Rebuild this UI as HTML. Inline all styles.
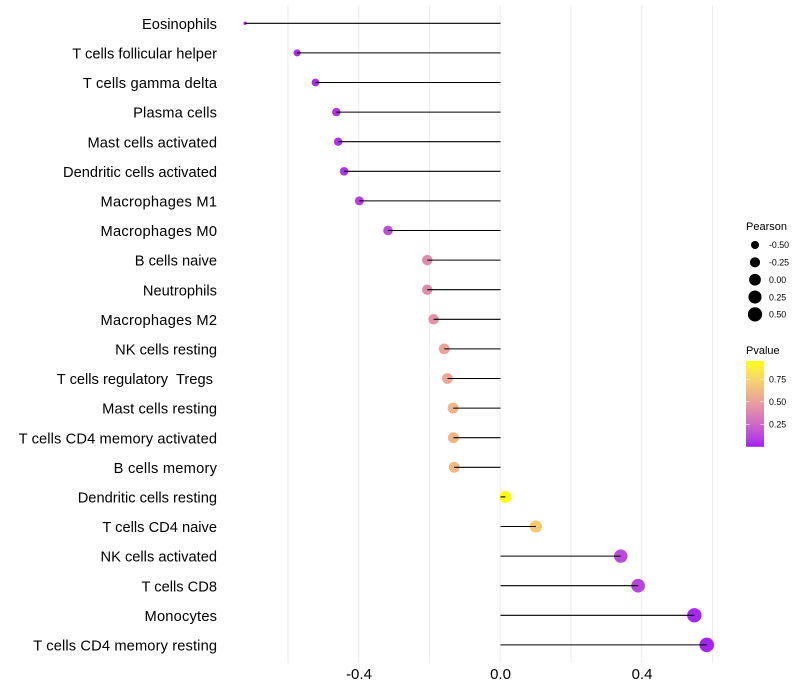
<!DOCTYPE html>
<html>
<head>
<meta charset="utf-8">
<title>Lollipop chart</title>
<style>
html,body{margin:0;padding:0;background:#fff;}
svg{display:block;font-family:"Liberation Sans",sans-serif;}
text{white-space:pre;}
</style>
</head>
<body>
<svg id="chart" width="800" height="700" viewBox="0 0 800 700" xmlns="http://www.w3.org/2000/svg" xml:space="preserve"></svg>
<script>
const categories = ["Eosinophils","T cells follicular helper","T cells gamma delta","Plasma cells","Mast cells activated","Dendritic cells activated","Macrophages M1","Macrophages M0","B cells naive","Neutrophils","Macrophages M2","NK cells resting","T cells regulatory  Tregs ","Mast cells resting","T cells CD4 memory activated","B cells memory","Dendritic cells resting","T cells CD4 naive","NK cells activated","T cells CD8","Monocytes","T cells CD4 memory resting"];
const pearson = [-0.722,-0.575,-0.523,-0.464,-0.459,-0.442,-0.399,-0.318,-0.207,-0.207,-0.189,-0.159,-0.150,-0.134,-0.133,-0.131,0.014,0.100,0.340,0.389,0.548,0.583];
const pvalue = [0.03,0.03,0.03,0.05,0.05,0.06,0.08,0.16,0.41,0.41,0.45,0.52,0.54,0.61,0.61,0.62,0.96,0.70,0.13,0.11,0.02,0.01];
const xMajorTicks = [-0.4,0,0.4];
const xMajorLabels = ["-0.4","0.0","0.4"];
const xMinorTicks = [-0.6,-0.2,0.2,0.6];
const sizeBreaks = [-0.5,-0.25,0,0.25,0.5];
const sizeLabels = ["-0.50","-0.25","0.00","0.25","0.50"];
const colorBreaks = [0.75,0.5,0.25];
const colorLabels = ["0.75","0.50","0.25"];

const svg = document.getElementById('chart');
const NS = 'http://www.w3.org/2000/svg';
function make(tag, attrs, parent, txt){
  const el = document.createElementNS(NS, tag);
  for (const k in attrs) el.setAttribute(k, attrs[k]);
  if (txt !== undefined) el.textContent = txt;
  (parent || svg).appendChild(el);
  return el;
}

// axis functions
function xScale(v){ return 500.5 + v * 353.75; }
function yScale(i){ return 23.3 + i * 29.6; }
const pearsonMin = Math.min(...pearson), pearsonMax = Math.max(...pearson);
function rScale(v){
  const t = Math.max(0, (v - pearsonMin) / (pearsonMax - pearsonMin));
  return 1.7 + 5.6 * Math.sqrt(t);
}
function legendY(i){ return 245 + i * 17.35; }
function barY(p){ return 446.9 - p * 90.2; }

// Lab interpolation purple -> yellow
function rgb2lab(c){
  const f = c.map(v => { v /= 255; return v > 0.04045 ? Math.pow((v + 0.055) / 1.055, 2.4) : v / 12.92; });
  const X = (0.4124*f[0] + 0.3576*f[1] + 0.1805*f[2]) / 0.95047;
  const Y = (0.2126*f[0] + 0.7152*f[1] + 0.0722*f[2]);
  const Z = (0.0193*f[0] + 0.1192*f[1] + 0.9505*f[2]) / 1.08883;
  const g = t => t > 0.008856 ? Math.cbrt(t) : 7.787 * t + 16 / 116;
  return [116*g(Y)-16, 500*(g(X)-g(Y)), 200*(g(Y)-g(Z))];
}
function lab2rgb(l){
  const y = (l[0]+16)/116, x = l[1]/500+y, z = y-l[2]/200;
  const h = t => t*t*t > 0.008856 ? t*t*t : (t-16/116)/7.787;
  const X = 0.95047*h(x), Y = h(y), Z = 1.08883*h(z);
  const r = [3.2406*X-1.5372*Y-0.4986*Z, -0.9689*X+1.8758*Y+0.0415*Z, 0.0557*X-0.2040*Y+1.0570*Z];
  return r.map(v => {
    v = v > 0.0031308 ? 1.055*Math.pow(v,1/2.4)-0.055 : 12.92*v;
    return Math.round(255*Math.min(1,Math.max(0,v)));
  });
}
const labLow = rgb2lab([160,32,240]), labHigh = rgb2lab([255,255,0]);
function colorScale(p){
  const t = Math.min(1, Math.max(0, p / 0.96));
  const c = lab2rgb(labLow.map((v,i) => v + (labHigh[i]-v)*t));
  return 'rgb(' + c.join(',') + ')';
}

// gridlines
xMinorTicks.concat(xMajorTicks).forEach(function(t){
  const gridLine = make('line', {x1:xScale(t)-0.3, x2:xScale(t)-0.3, y1:5, y2:663, stroke:'#ececec', 'stroke-width':1});
  
  
});

// points
categories.forEach(function(name, i){
  const point = make('circle', {cx:xScale(pearson[i]), cy:yScale(i), r:rScale(pearson[i]), fill:colorScale(pvalue[i])});
  
  
});

// stems
categories.forEach(function(name, i){
  const stem = make('line', {x1:xScale(0), x2:xScale(pearson[i]), y1:yScale(i), y2:yScale(i), stroke:'#000', 'stroke-width':1.07});
  
  
});

// y labels: the reference's hinted m glyphs run slightly wider than unhinted ones
categories.forEach(function(name, i){
  const yLabel = make('text', {x:217, y:yScale(i)+5.6, 'text-anchor':'end', 'font-size':14.67, fill:'#000'}, svg, name);
  
  
  const wideGlyphs = (name.match(/m/gi) || []).length;
  yLabel.setAttribute('textLength', yLabel.getComputedTextLength() + 1.6 * wideGlyphs);
  yLabel.setAttribute('lengthAdjust', 'spacing');
});

// x labels
xMajorTicks.forEach(function(t, i){
  const xLabel = make('text', {x:xScale(t), y:679, 'text-anchor':'middle', 'font-size':15, fill:'#000'}, svg, xMajorLabels[i]);
  
  
});

// size legend
const sizeTitle = make('text', {x:746, y:230, 'font-size':11, fill:'#000'}, svg, 'Pearson');


sizeBreaks.forEach(function(b, i){
  const key = make('circle', {cx:755, cy:legendY(i), r:rScale(b), fill:'#000'});
  
  
  const keyLabel = make('text', {x:769, y:legendY(i)+3.2, 'font-size':8.8, fill:'#000'}, svg, sizeLabels[i]);
  
  
});

// colour legend
const colorTitle = make('text', {x:746, y:354, 'font-size':11, fill:'#000'}, svg, 'Pvalue');


const defs = make('defs', {});
const grad = make('linearGradient', {id:'pgrad', x1:0, y1:1, x2:0, y2:0}, defs);
for (let s = 0; s <= 20; s++) {
  make('stop', {offset:(s/20), 'stop-color':colorScale(0.96*s/20)}, grad);
}
const colorBar = make('rect', {x:746, y:361, width:18, height:85.8, fill:'url(#pgrad)'});


colorBreaks.forEach(function(b, i){
  const tickL = make('line', {x1:746, x2:749.6, y1:barY(b), y2:barY(b), stroke:'#fff', 'stroke-width':0.6});
  
  
  const tickR = make('line', {x1:760.4, x2:764, y1:barY(b), y2:barY(b), stroke:'#fff', 'stroke-width':0.6});
  
  
  const barLabel = make('text', {x:769, y:barY(b)+3.2, 'font-size':8.8, fill:'#000'}, svg, colorLabels[i]);
  
  
});
</script>
</body>
</html>
